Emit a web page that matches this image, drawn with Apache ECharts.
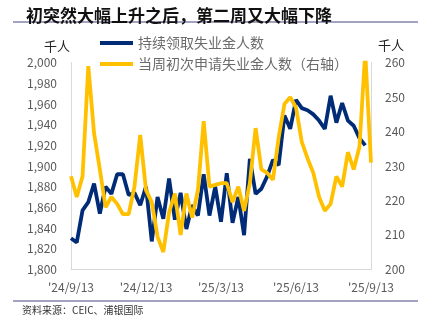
<!DOCTYPE html>
<html>
<head>
<meta charset="utf-8">
<script src="https://cdn.jsdelivr.net/npm/echarts@6/dist/echarts.min.js"></script>
<style>
html,body{margin:0;padding:0;background:#fff;}
#c{width:423px;height:328px;}
</style>
</head>
<body>
<div id="c"></div>
<script>
// ---- data ----
const startDate = new Date(Date.UTC(2024, 8, 13));
const categories = [];
for (let i = 0; i < 53; i++) {
  const d = new Date(startDate.getTime() + i * 7 * 86400000);
  categories.push(d.getUTCFullYear() + '-' + (d.getUTCMonth() + 1) + '-' + d.getUTCDate());
}
const tickLabels = ["'24/9/13", "'24/12/13", "'25/3/13", "'25/6/13", "'25/9/13"];
const leftTicks = [1800, 2000, 20];
const rightTicks = [200, 260, 10];

const continuingClaims = [1830,1826,1857,1865,1883,1854,1880,1873,1892,1892,1872,1874,1862,1880,1827,1870,1849,1888,1848,1874,1839,1862,1852,1892,1852,1880,1846,1893,1845,1870,1833,1907,1873,1878,1890,1906,1901,1949,1936,1964,1956,1954,1950,1944,1936,1968,1942,1961,1944,1939,1927,1920,null];
const initialClaims = [227,221,227,259,239.5,229,218,221,219,216,216,224,239,223,219.5,209.5,205,216.5,222,210,222,215,223,243,224,224.5,225,225,219.5,224,217,225,241,229,228,226,238.3,248,250,247,237,232.2,228,221,217,219,227,224,234,229,235.6,263,231];

const seriesNames = ['持续领取失业金人数', '当周初次申请失业金人数（右轴）'];

const chart = echarts.init(document.getElementById('c'), null, {renderer: 'canvas'});
const gray = '#595959';
const font = '"Noto Sans CJK SC", "Noto Sans", sans-serif';

chart.setOption({
  animation: false,
  backgroundColor: '#fff',
  title: {
    text: '初突然大幅上升之后，第二周又大幅下降',
    left: 21, top: 2,
    textStyle: {fontFamily: font, fontSize: 17, fontWeight: 'bold', color: '#111'}
  },
  legend: {
    orient: 'vertical',
    left: 95, top: 31,
    itemWidth: 33, itemHeight: 4,
    itemGap: 7,
    icon: 'rect',
    textStyle: {fontFamily: font, fontSize: 14, color: '#6b6b6b', lineHeight: 14},
    data: seriesNames
  },
  grid: {left: 71, right: 52, top: 62.7, bottom: 58.7, containLabel: false},
  xAxis: {
    type: 'category',
    data: categories,
    boundaryGap: false,
    axisLine: {lineStyle: {color: '#D9D9D9', width: 1}},
    axisTick: {show: false},
    axisLabel: {
      interval: 12,
      margin: 12,
      fontFamily: font, fontSize: 12, color: gray,
      formatter: (v, i) => (i % 13 === 0 ? tickLabels[i / 13] : '')
    }
  },
  yAxis: [
    {
      type: 'value', min: leftTicks[0], max: leftTicks[1], interval: leftTicks[2],
      axisLine: {show: true, lineStyle: {color: '#D9D9D9'}},
      axisTick: {show: false},
      splitLine: {show: false},
      axisLabel: {margin: 14, fontFamily: font, fontSize: 12, color: gray,
        formatter: v => v.toLocaleString('en-US')}
    },
    {
      type: 'value', min: rightTicks[0], max: rightTicks[1], interval: rightTicks[2],
      axisLine: {show: true, lineStyle: {color: '#D9D9D9'}},
      axisTick: {show: false},
      splitLine: {show: false},
      axisLabel: {margin: 14, fontFamily: font, fontSize: 12, color: gray}
    }
  ],
  series: [
    {
      name: seriesNames[0], type: 'line', yAxisIndex: 0,
      data: continuingClaims, symbol: 'none', smooth: false,
      lineStyle: {color: '#002C77', width: 3.8},
      itemStyle: {color: '#002C77'}
    },
    {
      name: seriesNames[1], type: 'line', yAxisIndex: 1,
      data: initialClaims, symbol: 'none', smooth: false, clip: true,
      lineStyle: {color: '#FFC000', width: 3.8},
      itemStyle: {color: '#FFC000'}
    }
  ],
  graphic: [
    {type: 'line', shape: {x1: 13, y1: 22, x2: 418, y2: 22}, style: {stroke: '#8585AD', lineWidth: 1.5}},
    {type: 'line', shape: {x1: 13, y1: 301, x2: 418, y2: 301}, style: {stroke: '#8585AD', lineWidth: 1.5}},
    {type: 'text', left: 44, top: 40, style: {text: '千人', font: '13px ' + font, fill: '#222'}},
    {type: 'text', left: 378, top: 39, style: {text: '千人', font: '13px ' + font, fill: '#222'}},
    {type: 'text', left: 22, top: 305, style: {text: '资料来源：CEIC、浦银国际', font: '10px ' + font, fill: '#333'}}
  ]
});
</script>
</body>
</html>
